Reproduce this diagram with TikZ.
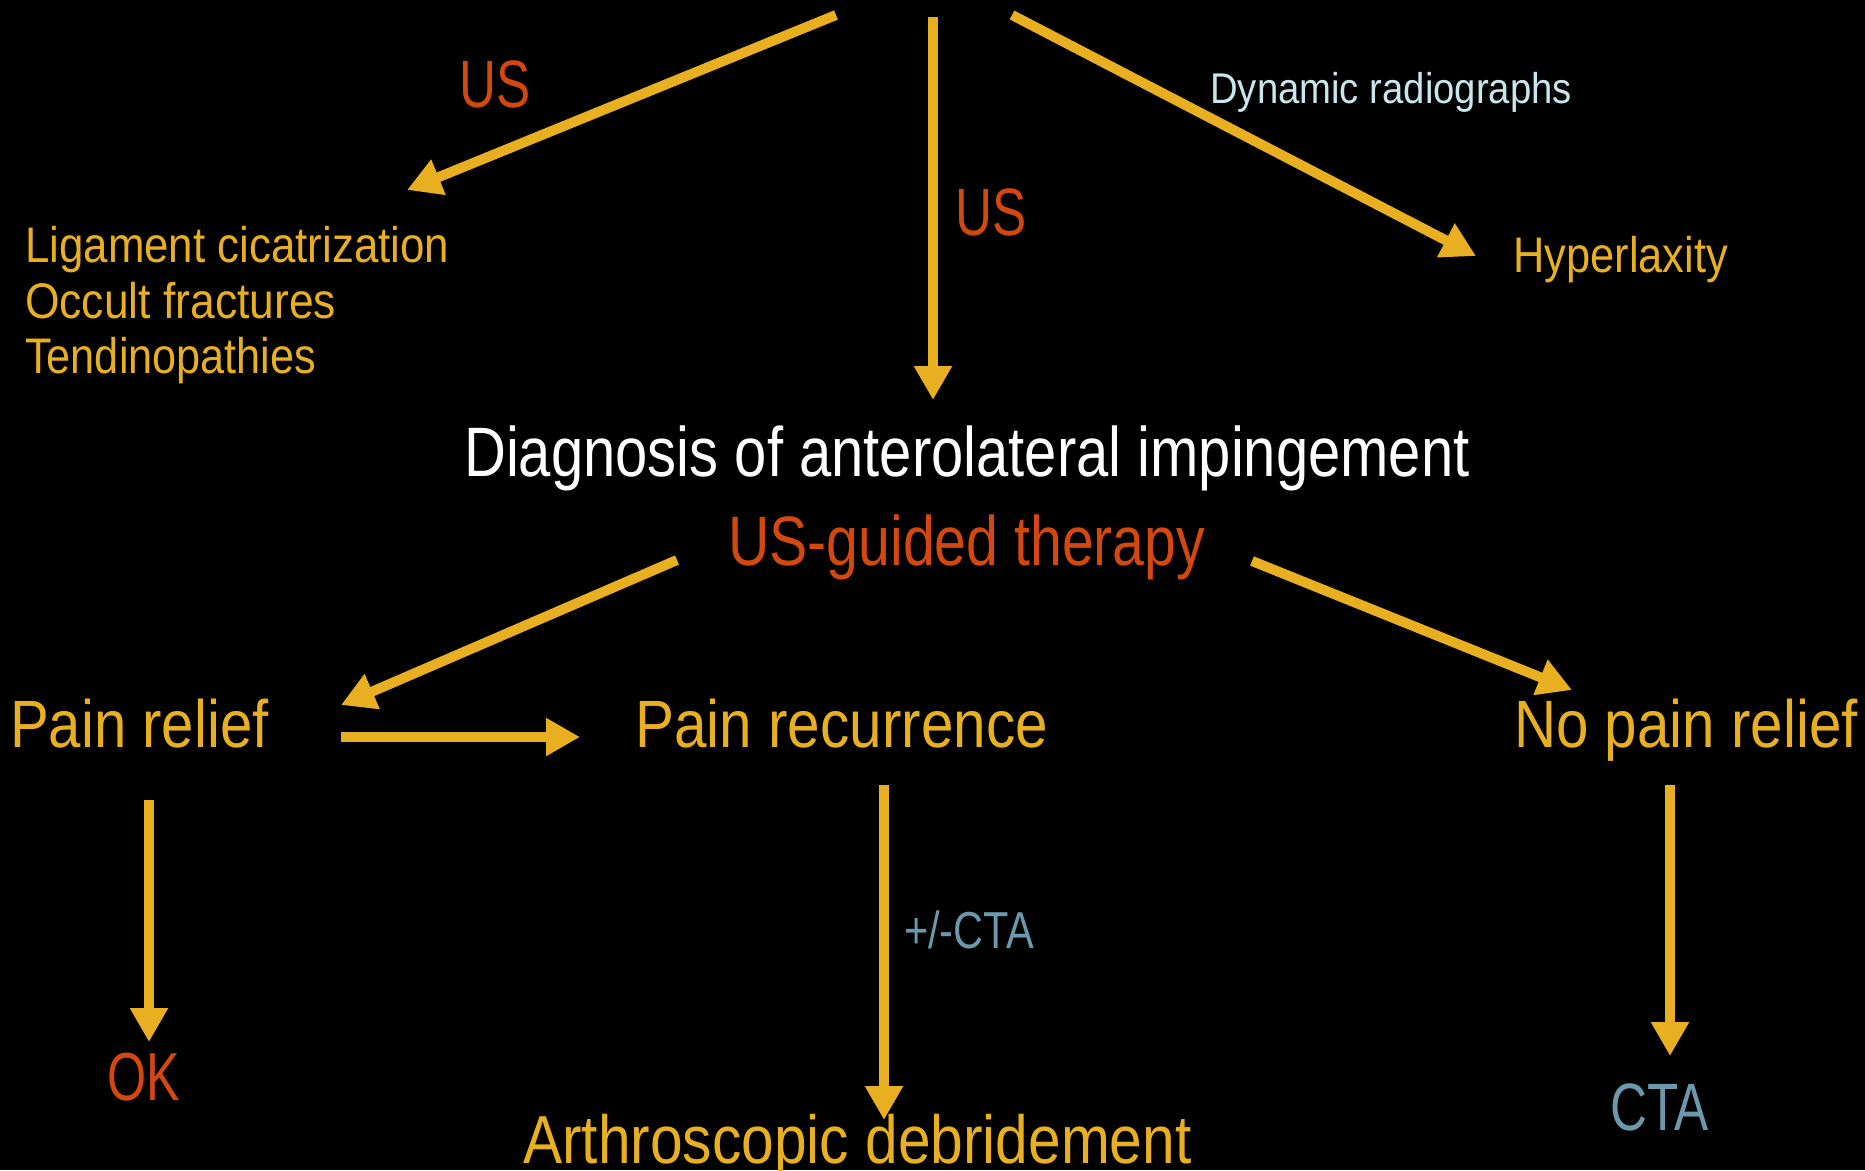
\documentclass[tikz,border=0pt]{standalone}
\usepackage{fontspec}
\setmainfont{Liberation Sans}[FakeStretch=0.84]
\usetikzlibrary{arrows.meta}
\definecolor{ylw}{HTML}{E8B021}
\definecolor{org}{HTML}{D2480E}
\definecolor{pale}{HTML}{C9E6EC}
\definecolor{slate}{HTML}{6B98AC}
\newcommand\hsc[2]{\scalebox{#1}[1]{#2}}
\begin{document}
\begin{tikzpicture}[x=1pt,y=-1pt,
  txt/.style={inner sep=0pt, anchor=base west},
  fs/.style={font=\fontsize{#1pt}{#1pt}\selectfont},
  arr/.style={draw=ylw, line width=10pt, -{Triangle[length=34pt,width=36pt]}}]
\fill[black] (0,0) rectangle (1865,1170);
\useasboundingbox (0,0) rectangle (1865,1170);
% texts
\node[txt,fs=67,text=org] (us1) at (459,107) {\hsc{0.91}{US}};
\node[txt,fs=67,text=org] (us2) at (955,235) {\hsc{0.91}{US}};
\node[txt,fs=43,text=pale] (dyn) at (1210,103) {\hsc{1.06}{Dynamic radiographs}};
\node[txt,fs=50,text=ylw] (hyp) at (1513,272) {\hsc{1.034}{Hyperlaxity}};
\node[txt,fs=50,text=ylw] (lig) at (25,262) {\hsc{1.044}{Ligament cicatrization}};
\node[txt,fs=50,text=ylw] (occ) at (25,318) {\hsc{1.057}{Occult fractures}};
\node[txt,fs=50,text=ylw] (ten) at (25,373) {\hsc{1.03}{Tendinopathies}};
\node[txt,fs=70,text=white] (diag) at (464,476) {\hsc{0.986}{Diagnosis of anterolateral impingement}};
\node[txt,fs=70,text=org] (usg) at (728,565) {\hsc{0.973}{US-guided therapy}};
\node[txt,fs=67,text=ylw] (pr) at (10,747) {\hsc{1.033}{Pain relief}};
\node[txt,fs=67,text=ylw] (prec) at (635,747) {\hsc{1.039}{Pain recurrence}};
\node[txt,fs=67,text=ylw] (npr) at (1514,747) {\hsc{1.036}{No pain relief}};
\node[txt,fs=68,text=org] (ok) at (107,1100) {\hsc{0.88}{OK}};
\node[txt,fs=52,text=slate] (pmcta) at (904,948) {\hsc{0.95}{+/-CTA}};
\node[txt,fs=68,text=ylw] (arth) at (523,1163) {\hsc{1.027}{Arthroscopic debridement}};
\node[txt,fs=67,text=slate] (cta) at (1610,1130) {\hsc{0.91}{CTA}};
% arrow end points
\coordinate (a1s) at (836,15);   \coordinate (a1e) at (407,190);
\coordinate (a2s) at (933,17);   \coordinate (a2e) at (933,400);
\coordinate (a3s) at (1012,15);  \coordinate (a3e) at (1476,256);
\coordinate (a4s) at (677,560);  \coordinate (a4e) at (341,705);
\coordinate (a5s) at (1252,561); \coordinate (a5e) at (1572,690);
\coordinate (a6s) at (341,737);  \coordinate (a6e) at (580,737);
\coordinate (a7s) at (149,800);  \coordinate (a7e) at (149,1042);
\coordinate (a8s) at (884,785);  \coordinate (a8e) at (884,1120);
\coordinate (a9s) at (1670,785); \coordinate (a9e) at (1670,1056);
\foreach \i in {1,...,9} {\draw[arr] (a\i s) -- (a\i e);}
\end{tikzpicture}
\end{document}
